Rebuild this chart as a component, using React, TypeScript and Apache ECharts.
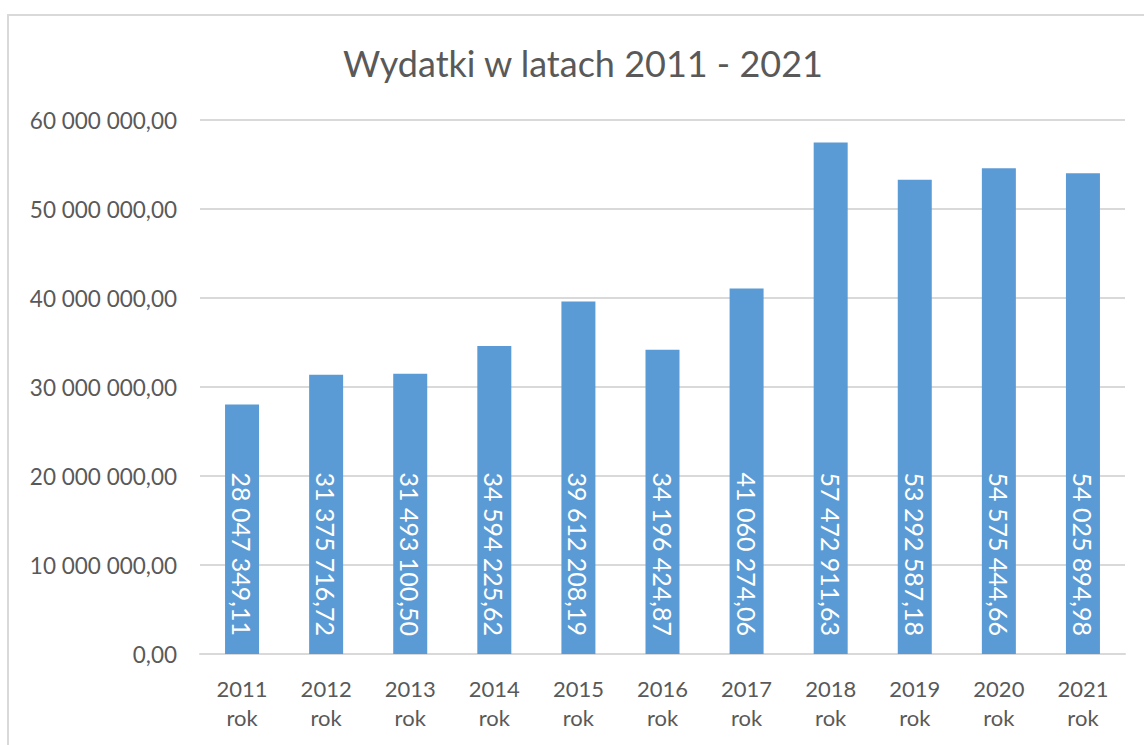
import React, { useEffect, useRef } from "react";
import * as echarts from "echarts";

const years = ["2011", "2012", "2013", "2014", "2015", "2016", "2017", "2018", "2019", "2020", "2021"];
const expenses = [
  28047349.11, 31375716.72, 31493100.5, 34594225.62, 39612208.19, 34196424.87,
  41060274.06, 57472911.63, 53292587.18, 54575444.66, 54025894.98,
];
const yTicks = [0, 10000000, 20000000, 30000000, 40000000, 50000000, 60000000];

const FONT = "Lato";

function formatPl(v: number): string {
  const [i, d] = v.toFixed(2).split(".");
  return i.replace(/\B(?=(\d{3})+(?!\d))/g, " ") + "," + d;
}

export default function App() {
  const ref = useRef<HTMLDivElement>(null);
  useEffect(() => {
    if (!ref.current) return;
    const chart = echarts.init(ref.current, undefined, { renderer: "svg" });
    chart.setOption({
      animation: false,
      backgroundColor: "#ffffff",
      title: {
        text: "Wydatki w latach 2011 - 2021",
        left: 578,
        top: 40,
        textAlign: "center",
        textStyle: { fontFamily: FONT, fontSize: 36, fontWeight: "normal", color: "#595959" },
      },
      graphic: [
        {
          type: "rect",
          shape: { x: 8, y: 15, width: 1300, height: 900 },
          style: { fill: "none", stroke: "#d9d9d9", lineWidth: 2 },
          silent: true,
        },
      ],
      grid: { left: 200, right: 19, top: 120, bottom: 91 },
      xAxis: {
        type: "category",
        data: years,
        axisLine: { lineStyle: { color: "#d9d9d9", width: 2 } },
        axisTick: { show: false },
        axisLabel: {
          formatter: (v: string) => v + "\nrok",
          color: "#595959",
          fontFamily: FONT,
          fontSize: 22,
          lineHeight: 29,
          margin: 20,
          interval: 0,
        },
      },
      yAxis: {
        type: "value",
        min: yTicks[0],
        max: yTicks[yTicks.length - 1],
        interval: yTicks[1] - yTicks[0],
        axisLine: { show: false },
        axisTick: { show: false },
        splitLine: { lineStyle: { color: "#d9d9d9", width: 2 } },
        axisLabel: {
          formatter: (v: number) => formatPl(v),
          color: "#595959",
          fontFamily: FONT,
          fontSize: 22.5,
          margin: 23,
        },
      },
      series: [
        {
          type: "bar",
          data: expenses,
          barWidth: 34,
          itemStyle: { color: "#5b9bd5" },
          label: {
            show: true,
            position: "insideBottom",
            rotate: -90,
            align: "right",
            verticalAlign: "middle",
            distance: 18,
            color: "#ffffff",
            fontFamily: FONT,
            fontSize: 25,
            formatter: (p: any) => formatPl(p.value),
          },
        },
      ],
    });
    return () => chart.dispose();
  }, []);
  return (
    <div
      ref={ref}
      style={{ position: "absolute", left: 0, top: 0, width: 1144, height: 745 }}
    />
  );
}
